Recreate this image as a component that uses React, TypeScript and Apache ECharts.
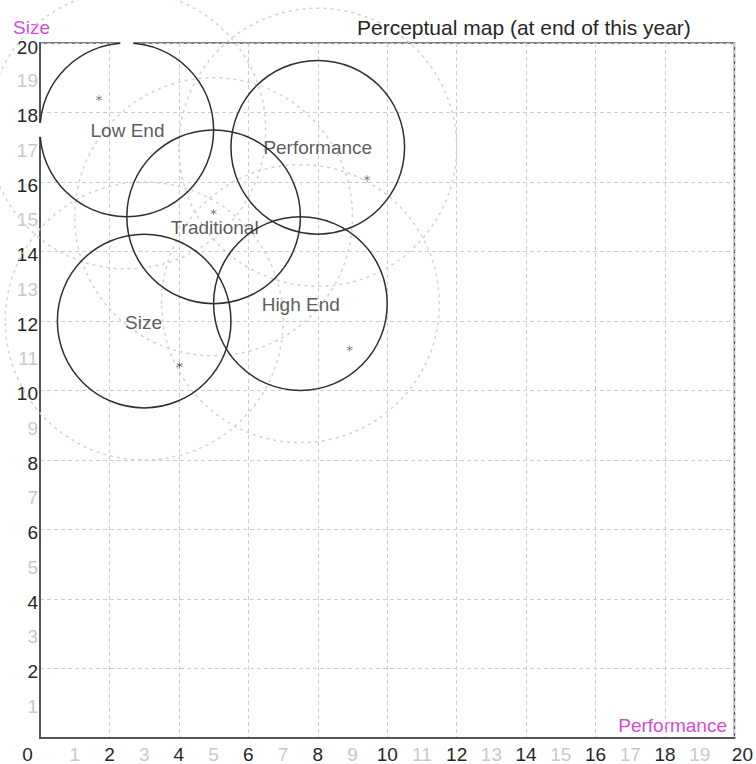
import React, { useEffect, useRef } from "react";
import * as echarts from "echarts";

// ---- data ----
const segments = ["Low End", "Traditional", "Performance", "High End", "Size"];
const centerX = [2.5, 5, 8, 7.5, 3];
const centerY = [17.5, 15, 17, 12.5, 12];
const labelX = [2.52, 5.03, 8.0, 7.51, 2.98];
const labelY = [17.49, 14.68, 17.0, 12.47, 11.97];
const idealX = [1.7, 5.0, 9.42, 8.92, 4.02];
const idealY = [18.41, 15.14, 16.11, 11.21, 10.73];
const fineCut = 2.5;
const roughCut = 4;
const axisMin = 0;
const axisMax = 20;
const title = "Perceptual map (at end of this year)";
const xName = "Performance";
const yName = "Size";

const FONT = "'Liberation Sans', Arial, sans-serif";
const DARK = "#262626";
const LIGHT = "#c9c9c9";
const PINK = "#d54bd5";
const STAR =
  "path://M4.5 0L5.5 0L5.5 10L4.5 10Z M0.92 2.07L9.58 7.07L9.08 7.93L0.42 2.93Z M0.42 7.07L9.08 2.07L9.58 2.93L0.92 7.93Z";

function circleSeries(radius: number, style: any, gaps: boolean, z: number) {
  return {
    type: "custom",
    xAxisIndex: 0,
    yAxisIndex: 0,
    clip: false,
    silent: true,
    z,
    data: centerX.map((x, i) => [x, centerY[i], radius]),
    renderItem: (params: any, api: any) => {
      const cxv = api.value(0);
      const cyv = api.value(1);
      const r = api.value(2);
      const c = api.coord([cxv, cyv]);
      const s = api.size([r, r]);
      const children: any[] = [
        {
          type: "ellipse",
          shape: { cx: c[0], cy: c[1], rx: s[0], ry: s[1] },
          style: { fill: "none", ...style },
        },
      ];
      if (gaps) {
        if (Math.abs(cyv + r - axisMax) < 1e-6) {
          children.push({
            type: "rect",
            shape: { x: c[0] - 6.5, y: c[1] - s[1] - 3, width: 13, height: 6 },
            style: { fill: "#fff" },
          });
        }
        if (Math.abs(cxv - r - axisMin) < 1e-6) {
          children.push({
            type: "rect",
            shape: { x: c[0] - s[0] - 3, y: c[1] - 7, width: 6, height: 14 },
            style: { fill: "#fff" },
          });
        }
      }
      return { type: "group", children };
    },
  };
}

export default function App() {
  const ref = useRef<HTMLDivElement>(null);
  useEffect(() => {
    if (!ref.current) return;
    const chart = echarts.init(ref.current, null, { renderer: "svg" });
    const base = { fontSize: 19, fontFamily: FONT };
    const xRich = {
      odd: { ...base, color: LIGHT },
      even: { ...base, color: DARK },
      zero: { ...base, color: DARK, padding: [0, 25, 0, 0] },
      last: { ...base, color: DARK, padding: [0, 0, 0, 16] },
    };
    const yRich = {
      odd: { ...base, color: LIGHT, padding: [6, 0, 0, 0] },
      even: { ...base, color: DARK, padding: [6, 0, 0, 0] },
      top: { ...base, color: DARK, padding: [9, 0, 0, 0] },
    };
    const gridLine = { show: true, lineStyle: { color: "#cdcdcd", type: [4, 3], width: 1 } };
    chart.setOption({
      animation: false,
      backgroundColor: "#ffffff",
      textStyle: { fontFamily: FONT },
      title: {
        text: title,
        left: 352,
        top: 12,
        textStyle: { fontSize: 21, fontWeight: "normal", color: DARK, fontFamily: FONT },
      },
      grid: {
        left: 40,
        right: 19,
        top: 43,
        bottom: 25,
        show: true,
        borderColor: "#555",
        borderWidth: 1.5,
        backgroundColor: "transparent",
      },
      xAxis: [
        {
          type: "value",
          min: axisMin,
          max: axisMax,
          interval: 1,
          position: "bottom",
          axisLine: { show: true, lineStyle: { color: "#555", width: 2 } },
          axisTick: { show: false },
          splitLine: { show: false },
          axisLabel: {
            margin: 7,
            showMinLabel: true,
            showMaxLabel: true,
            formatter: (v: number) =>
              v === axisMin ? `{zero|${v}}` : v === axisMax ? `{last|${v}}` : v % 2 ? `{odd|${v}}` : `{even|${v}}`,
            rich: xRich,
          },
        },
        {
          type: "value",
          min: axisMin,
          max: axisMax,
          interval: 2,
          position: "bottom",
          axisLine: { show: false },
          axisTick: { show: false },
          axisLabel: { show: false },
          splitLine: gridLine,
        },
      ],
      yAxis: [
        {
          type: "value",
          min: axisMin,
          max: axisMax,
          interval: 1,
          position: "left",
          axisLine: { show: true, lineStyle: { color: "#555", width: 2 } },
          axisTick: { show: false },
          splitLine: { show: false },
          axisLabel: {
            margin: 2,
            showMinLabel: true,
            showMaxLabel: true,
            formatter: (v: number) =>
              v === axisMin ? "" : v === axisMax ? `{top|${v}}` : v % 2 ? `{odd|${v}}` : `{even|${v}}`,
            rich: yRich,
          },
        },
        {
          type: "value",
          min: axisMin,
          max: axisMax,
          interval: 2,
          position: "left",
          axisLine: { show: false },
          axisTick: { show: false },
          axisLabel: { show: false },
          splitLine: gridLine,
        },
      ],
      graphic: [
        {
          type: "text",
          x: 13,
          y: 37,
          style: { text: yName, fill: PINK, fontSize: 19, fontFamily: FONT, verticalAlign: "bottom" },
        },
        {
          type: "text",
          right: 29,
          top: 716,
          style: { text: xName, fill: PINK, fontSize: 19, fontFamily: FONT },
        },
      ],
      series: [
        circleSeries(roughCut, { stroke: "#d2d2d2", lineWidth: 1.5, lineDash: [3, 4] }, false, 3),
        circleSeries(fineCut, { stroke: "#2e2e2e", lineWidth: 1.5 }, true, 10),
        {
          type: "scatter",
          xAxisIndex: 0,
          yAxisIndex: 0,
          symbol: STAR,
          symbolSize: 6,
          itemStyle: { color: "#333" },
          data: idealX.map((x, i) => [x, idealY[i]]),
          z: 11,
        },
        {
          type: "scatter",
          xAxisIndex: 0,
          yAxisIndex: 0,
          symbolSize: 1,
          itemStyle: { color: "rgba(0,0,0,0)" },
          data: labelX.map((x, i) => ({ name: segments[i], value: [x, labelY[i]] })),
          label: {
            show: true,
            position: "inside",
            formatter: "{b}",
            fontSize: 19,
            fontFamily: FONT,
            color: "#303030",
          },
          z: 12,
        },
      ],
    });
    return () => chart.dispose();
  }, []);
  return (
    <div
      ref={ref}
      style={{ position: "fixed", left: 0, top: 0, width: 756, height: 764, background: "#fff" }}
    />
  );
}
